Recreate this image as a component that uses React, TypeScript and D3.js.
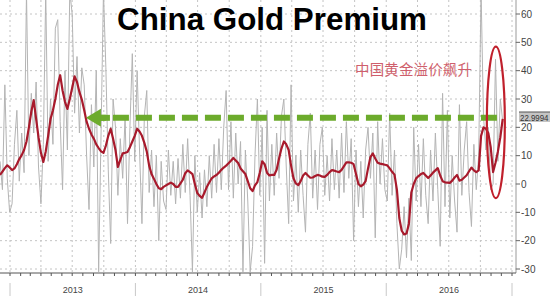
import React from "react";
import * as d3 from "d3";

// Weekly observations starting 2012-12-03
const START_DATE = "2012-12-03";

// Smoothed premium (red line), USD/oz
const premiumAvg: number[] = [
  3.2, 4.4, 5.6, 6.6, 5.8, 4.9, 5.5, 7.0, 8.8, 10.2,
  12, 15, 20, 25.5, 29.6, 23, 16.5, 11, 7.8, 11.5,
  17, 23, 26, 30, 35, 38.4, 33, 29, 26.5, 30,
  34, 38, 36, 32.5, 29.8, 26, 22, 19.5, 17.5, 16,
  14, 12.7, 11.5, 11, 13.5, 17, 19.5, 16, 12, 6,
  8.5, 10.8, 11, 11.3, 13, 15, 17, 19.5, 18.5, 17,
  14.5, 11.5, 6.5, 3.5, 1.8, 0, -1.5, -1.8, -1, -0.5,
  0, 0.5, 0, -1, -1, 0.2, 1.5, 3.8, 4.8, 4.2,
  3.5, 0, -3.2, -4.2, -4.9, -3, -1, 0.5, 2, 2.7,
  3.2, 4, 5, 5.8, 6.5, 7.3, 8.2, 9.2, 8.3, 7.4,
  5.5, 4.5, 3.5, 1, -1.5, -2.5, -0.5, 0.7, 4, 8,
  7, 4, 3, 3.2, 3.2, 5, 9, 12.5, 15, 14,
  12, 6.5, 2, 0.2, -0.4, 1, 3, 3.9, 3, 2.2,
  2.3, 2.8, 3.2, 3, 2.6, 2.5, 3.2, 4.2, 4.9, 4.7,
  4.4, 4.2, 5, 6.3, 7.6, 7.6, 7.5, 7, 3.5, 0,
  -0.8, -0.2, 1, 5.5, 9.5, 10.8, 9, 7.5, 7.2, 7,
  6.8, 6.6, 5.5, 4.3, 3.3, -2, -12, -16.5, -17.8, -17.5,
  -14, -3, 0, 2, 2.8, 3.5, 3.9, 3, 2.1, 3,
  4, 4.8, 5.6, 3, 1, 0.6, 0.5, 0.4, 1.2, 2.3,
  3.2, 1.2, 1.5, 2.3, 3.1, 4.5, 5.8, 4.8, 4.2, 4.8,
  17, 20, 19.5, 18, 13, 4.2, 7.5, 11.5, 16.5, 23,
];

// Raw premium (grey line)
const premiumRaw: number[] = [
  8, -2, 35, 2, -10, -7, 14, 26, 1, 18,
  4, 68, 10, 32, 18, 36, 6, -7, 14, 68,
  8, 30, 14, 55, 58, 22, -2, 40, 12, 68,
  60, 25, 45, 18, 41, 35, 10, -9, 28, 6,
  40, -31, 18, 68, 41, 5, -21, 30, 20, -4,
  16, 2, 24, -14, 20, 46, 8, 40, 12, -14,
  24, 33, -3, 12, -8, 10, -20, 8, -6, -9,
  12, -4, 8, -7, 9, -5, 14, -3, 16, -4,
  -31, 10, -10, 4, -12, 5, -8, 10, -5, 14,
  -3, 16, -2, 20, 33, -2, 22, -5, 18, 0,
  15, -31, 12, -6, -31, -22, 10, 30, -4, 20,
  -28, 26, -6, 14, -4, 18, 2, 24, 30, 6,
  -14, 35, -6, 10, -10, 12, -4, -17, 14, 25,
  -5, 12, -9, 14, 20, -4, 10, -6, 16, -2,
  12, -5, 18, -3, 22, 2, 16, -20, 12, -8,
  8, -12, 12, 20, 2, 18, -19, 22, 0, 16,
  -2, -6, 25, -4, 12, -14, -30, -23, -8, -26,
  -5, -27, 20, -6, 14, -8, 16, -4, -14, 12,
  -6, 18, -2, -22, 32, -8, 26, -12, 10, -6,
  -17, 28, -4, 12, 22, -3, -15, 14, -2, 10,
  68, 24, 12, 20, -2, 0, 44, 8, 30, 22,
];

const yTicks: number[] = [60, 50, 40, 30, 20, 10, 0, -10, -20, -30];
const yearLabels: string[] = ["2013", "2014", "2015", "2016"];
const lastValueLabel = "22.9994";
const titleText = "China Gold Premium";
const noteText = "中国黄金溢价飙升";
const ARROW_TIP_DATE = "2013-08-10";

const W = 550;
const H = 300;

export default function App() {
  const start = new Date(START_DATE + "T00:00:00");
  const dates = premiumAvg.map((_, i) => d3.timeDay.offset(start, i * 7));

  const x = d3
    .scaleTime()
    .domain([new Date("2013-01-01T00:00:00"), new Date("2017-01-01T00:00:00")])
    .range([10, 512]);
  const y = d3.scaleLinear().domain([-30, 60]).range([269, 14]);

  const plotRight = 516;
  const axisY = 273;

  const rawLine = d3
    .line<number>()
    .x((_, i) => x(dates[i]))
    .y((v) => y(v));
  const avgLine = d3
    .line<number>()
    .x((_, i) => x(dates[i]))
    .y((v) => y(v));

  const quarters = d3.timeMonth.every(3)!.range(
    new Date("2013-01-01T00:00:00"),
    new Date("2017-01-02T00:00:00")
  );
  const months = d3.timeMonth.range(
    new Date("2012-12-01T00:00:00"),
    new Date("2017-01-02T00:00:00")
  );
  const years = d3.timeYear.range(
    new Date("2013-01-01T00:00:00"),
    new Date("2018-01-01T00:00:00")
  );

  const lastIdx = premiumAvg.length - 1;
  const lastVal = premiumAvg[lastIdx];
  const arrowY = y(lastVal) - 1;
  const arrowTipX = x(new Date(ARROW_TIP_DATE + "T00:00:00"));
  const arrowEndX = x(dates[lastIdx]);

  // ellipse around the latest spike
  const ellCx = x(d3.timeDay.offset(dates[lastIdx], -20));
  const ellTop = y(48.5);
  const ellBot = y(-5);

  return (
    <svg
      width={W}
      height={H}
      style={{ position: "absolute", left: 0, top: 0, background: "#fff" }}
      fontFamily="'Liberation Sans', Arial, sans-serif"
    >
      <defs>
        <clipPath id="plotClip">
          <rect x={0} y={0} width={plotRight} height={axisY} />
        </clipPath>
      </defs>

      {/* horizontal grid */}
      {yTicks.map((t) => (
        <line
          key={"h" + t}
          x1={0}
          x2={plotRight}
          y1={y(t)}
          y2={y(t)}
          stroke="#c4c4c4"
          strokeWidth={1}
          strokeDasharray="2,3"
        />
      ))}
      {/* vertical quarterly grid */}
      {quarters.map((q, i) => (
        <line
          key={"v" + i}
          x1={x(q)}
          x2={x(q)}
          y1={0}
          y2={axisY}
          stroke="#c4c4c4"
          strokeWidth={1}
          strokeDasharray="2,3"
        />
      ))}

      <g clipPath="url(#plotClip)">
        <path d={rawLine(premiumRaw) || ""} fill="none" stroke="#b4b4b4" strokeWidth={1} />
        <path
          d={avgLine(premiumAvg) || ""}
          fill="none"
          stroke="#a81a2c"
          strokeWidth={2.2}
          strokeLinejoin="round"
        />
      </g>

      {/* right axis */}
      <line x1={plotRight} x2={plotRight} y1={0} y2={axisY} stroke="#9a9a9a" strokeWidth={1} />
      {yTicks.map((t) => (
        <g key={"yt" + t}>
          <line x1={plotRight} x2={plotRight + 4} y1={y(t)} y2={y(t)} stroke="#666" />
          <text x={plotRight + 5} y={y(t) + 3.5} fontSize={10} fill="#444">
            {t}
          </text>
        </g>
      ))}

      {/* bottom axis */}
      <line x1={0} x2={plotRight} y1={axisY} y2={axisY} stroke="#555" strokeWidth={1} />
      {months.map((m, i) => (
        <line key={"m" + i} x1={x(m)} x2={x(m)} y1={axisY} y2={axisY + 3} stroke="#555" />
      ))}
      {years.map((yr, i) => (
        <line
          key={"ys" + i}
          x1={x(yr)}
          x2={x(yr)}
          y1={283}
          y2={296}
          stroke="#c8c8c8"
          strokeWidth={1}
        />
      ))}
      {yearLabels.map((lbl) => {
        const a = x(new Date(`${lbl}-01-01T00:00:00`));
        const b = x(new Date(`${+lbl + 1}-01-01T00:00:00`));
        return (
          <text key={lbl} x={(a + b) / 2} y={293} fontSize={9} fill="#444" textAnchor="middle">
            {lbl}
          </text>
        );
      })}

      {/* green dashed arrow */}
      <line
        x1={arrowTipX + 14}
        x2={arrowEndX}
        y1={arrowY}
        y2={arrowY}
        stroke="#6cab2c"
        strokeWidth={6}
        strokeDasharray="16,7"
        strokeDashoffset={-13}
      />
      <line
        x1={arrowTipX + 10}
        x2={arrowTipX + 24}
        y1={arrowY}
        y2={arrowY}
        stroke="#6cab2c"
        strokeWidth={6}
      />
      <path
        d={`M${arrowTipX},${arrowY} L${arrowTipX + 15},${arrowY - 9} L${arrowTipX + 15},${arrowY + 9} Z`}
        fill="#6cab2c"
      />

      {/* red ellipse */}
      <ellipse
        cx={ellCx}
        cy={(ellTop + ellBot) / 2}
        rx={9}
        ry={(ellBot - ellTop) / 2}
        fill="none"
        stroke="#c0202c"
        strokeWidth={2.2}
      />

      {/* last value label */}
      <rect x={519} y={112} width={31} height={10} fill="#c4c4c4" />
      <line x1={519} x2={550} y1={112} y2={112} stroke="#555" strokeWidth={1} />
      <text
        x={520}
        y={120.5}
        fontSize={8.5}
        fill="#333"
        textLength={28.5}
        lengthAdjust="spacingAndGlyphs"
      >
        {lastValueLabel}
      </text>

      {/* title */}
      <text
        x={117}
        y={30}
        fontSize={31}
        fontWeight="bold"
        fill="#000"
        textLength={310}
        lengthAdjust="spacingAndGlyphs"
      >
        {titleText}
      </text>

      {/* Chinese annotation */}
      <text
        x={355}
        y={75}
        fontSize={14.5}
        fill="#cf5f6c"
        fontFamily="'Noto Sans CJK SC', sans-serif"
        textLength={117}
      >
        {noteText}
      </text>
    </svg>
  );
}
